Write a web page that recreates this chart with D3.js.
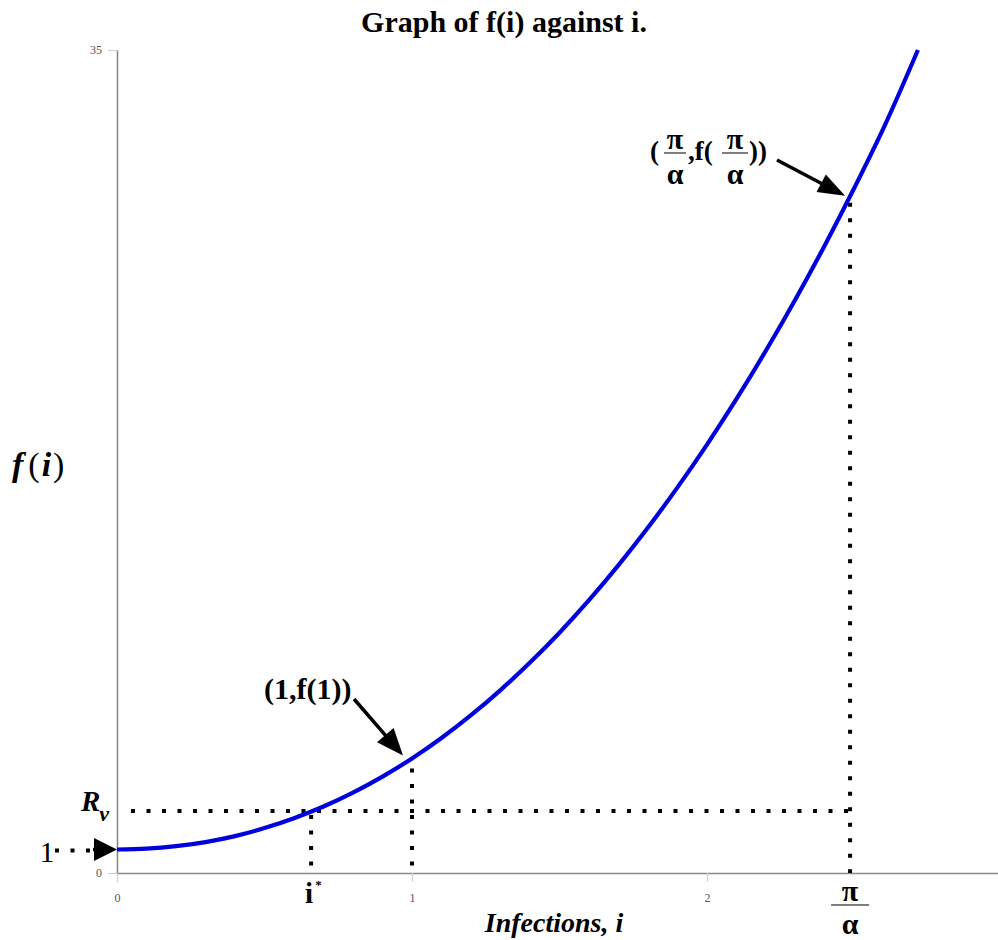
<!DOCTYPE html>
<html><head><meta charset="utf-8">
<script src="https://cdn.jsdelivr.net/npm/d3@7"></script>
<style>
body{margin:0;background:#fff}
svg{display:block}
</style>
</head><body>
<svg id="c" width="998" height="940"></svg>
<script>
// ---- data ----
const iValues = [0, 0.1, 0.2, 0.3, 0.4, 0.5, 0.6, 0.7, 0.8, 0.9, 1.0, 1.1, 1.2, 1.3, 1.4, 1.5, 1.6, 1.7, 1.8, 1.9, 2.0, 2.1, 2.2, 2.3, 2.4, 2.5, 2.6, 2.715];
const fValues = [1.0, 1.035, 1.14, 1.315, 1.57, 1.91, 2.33, 2.83, 3.42, 4.10, 4.87, 5.74, 6.71, 7.78, 8.95, 10.22, 11.6, 13.09, 14.69, 16.4, 18.22, 20.16, 22.22, 24.4, 26.71, 29.15, 31.72, 35.0];
const xTickValues = [0, 1, 2];
const yTickValues = [0, 35];
const iStar = 0.658;
const Rv = 2.64;
const piOverAlpha = 2.485;
const fPiOverAlpha = 28.5;
const fOne = 4.87;
const fZero = 1;

const SERIF = "'Liberation Serif'";

const svg = d3.select("#c").attr("font-family", SERIF);
const x = d3.scaleLinear().domain([0, 3]).range([117, 1002]);
const y = d3.scaleLinear().domain([0, 35]).range([873, 50]);

function txt(parent) {
  return parent.append("text").attr("font-family", SERIF);
}

// title
txt(svg).attr("x", 504).attr("y", 32).attr("text-anchor", "middle")
  .attr("font-size", 30).attr("font-weight", "bold").text("Graph of f(i) against i.");

// axes
const gx = svg.append("g").attr("transform", `translate(0,${y(0)})`)
  .call(d3.axisBottom(x).tickValues(xTickValues).tickSize(9).tickSizeOuter(0).tickPadding(11).tickFormat(d3.format("d")));
const gy = svg.append("g").attr("transform", `translate(${x(0)},0)`)
  .call(d3.axisLeft(y).tickValues(yTickValues).tickSize(9).tickSizeOuter(0).tickPadding(6).tickFormat(d3.format("d")));
[gx, gy].forEach(g => {
  g.attr("font-family", SERIF);
  g.select(".domain").attr("stroke", "#8a8a8a").attr("stroke-width", 1.6);
  g.selectAll(".tick line").attr("stroke", "#d0d0d0").attr("stroke-width", 1.2);
  g.selectAll(".tick text").attr("fill", "#555").attr("font-size", 12).attr("font-family", SERIF);
});

// dotted guide lines
const dotted = (x1, y1, x2, y2) => svg.append("line")
  .attr("x1", x1).attr("y1", y1).attr("x2", x2).attr("y2", y2)
  .attr("stroke", "#000").attr("stroke-width", 4).attr("stroke-dasharray", "4,11.5");

dotted(x(0) + 14, y(Rv), x(piOverAlpha) + 4, y(Rv));
dotted(x(iStar), y(Rv) + 4, x(iStar), y(0));
dotted(x(1), y(fOne) + 10, x(1), y(0));
dotted(x(piOverAlpha), y(fPiOverAlpha), x(piOverAlpha), y(0));
dotted(55, y(fZero) + 1, 92, y(fZero) + 1);

// curve
const line = d3.line().x((d, k) => x(iValues[k])).y(d => y(d)).curve(d3.curveMonotoneX);
svg.append("path").datum(fValues).attr("d", line)
  .attr("fill", "none").attr("stroke", "#0000dd").attr("stroke-width", 4.2);

// arrow helper
function arrow(x1, y1, x2, y2, len, w) {
  const dx = x2 - x1, dy = y2 - y1, L = Math.hypot(dx, dy);
  const ux = dx / L, uy = dy / L;
  const bx = x2 - ux * len, by = y2 - uy * len;
  svg.append("line").attr("x1", x1).attr("y1", y1).attr("x2", bx + ux * 2).attr("y2", by + uy * 2)
    .attr("stroke", "#000").attr("stroke-width", 3.5);
  svg.append("path")
    .attr("d", `M${x2},${y2}L${bx - uy * w / 2},${by + ux * w / 2}L${bx + uy * w / 2},${by - ux * w / 2}Z`)
    .attr("fill", "#000");
}

// arrow pointing at f(0)=1 on the axis
arrow(93, y(fZero), x(0), y(fZero), 23, 23);

// (1,f(1)) annotation
arrow(354, 699, x(1) - 9, y(fOne) - 3, 27, 22);
txt(svg).attr("x", 264).attr("y", 699).attr("font-size", 30).attr("font-weight", "bold").text("(1,f(1))");

// (π/α, f(π/α)) annotation
arrow(777, 160, x(piOverAlpha) - 5, y(fPiOverAlpha) - 7, 27, 20);
const topLabel = svg.append("g");
function frac(g, cx, lineY, half, gap) {
  txt(g).attr("x", cx).attr("y", lineY - 4).attr("text-anchor", "middle").attr("font-size", 30).attr("font-weight", "bold").text("π");
  g.append("line").attr("x1", cx - half).attr("x2", cx + half).attr("y1", lineY).attr("y2", lineY)
    .attr("stroke", "#555").attr("stroke-width", 1.5);
  txt(g).attr("x", cx).attr("y", lineY + gap).attr("text-anchor", "middle").attr("font-size", 30).attr("font-weight", "bold").text("α");
}
txt(topLabel).attr("x", 650).attr("y", 160).attr("font-size", 27).attr("font-weight", "bold").text("(");
frac(topLabel, 675, 153, 11, 31);
txt(topLabel).attr("x", 688).attr("y", 160).attr("font-size", 27).attr("font-weight", "bold").text(",f(");
frac(topLabel, 735, 153, 13, 31);
txt(topLabel).attr("x", 749).attr("y", 160).attr("font-size", 27).attr("font-weight", "bold").text("))");

// π/α below axis
frac(svg.append("g"), x(piOverAlpha), 905, 19, 29);

// i* label
const it = txt(svg).attr("x", x(iStar) - 6).attr("y", 903).attr("font-size", 29).attr("font-weight", "bold");
it.append("tspan").text("i");
it.append("tspan").attr("font-size", 13).attr("dy", -14).attr("dx", 2).text("*");

// R_v label
const rt = txt(svg).attr("x", 81).attr("y", 811).attr("font-weight", "bold").attr("font-style", "italic").attr("font-size", 29);
rt.append("tspan").text("R");
rt.append("tspan").attr("font-size", 22).attr("dy", 10).attr("dx", -1).text("v");

// "1" label on the left
txt(svg).attr("x", 47).attr("y", 862).attr("text-anchor", "middle").attr("font-size", 30).text("1");

// axis titles
const yl = txt(svg).attr("x", 12).attr("y", 476).attr("font-size", 34);
yl.append("tspan").attr("font-weight", "bold").attr("font-style", "italic").text("f");
yl.append("tspan").attr("dx", 5).text("(");
yl.append("tspan").attr("dx", 2).attr("font-weight", "bold").attr("font-style", "italic").text("i");
yl.append("tspan").attr("dx", 2).text(")");

txt(svg).attr("x", 554).attr("y", 932).attr("text-anchor", "middle")
  .attr("font-size", 28).attr("font-weight", "bold").attr("font-style", "italic").text("Infections, i");
</script>
</body></html>
